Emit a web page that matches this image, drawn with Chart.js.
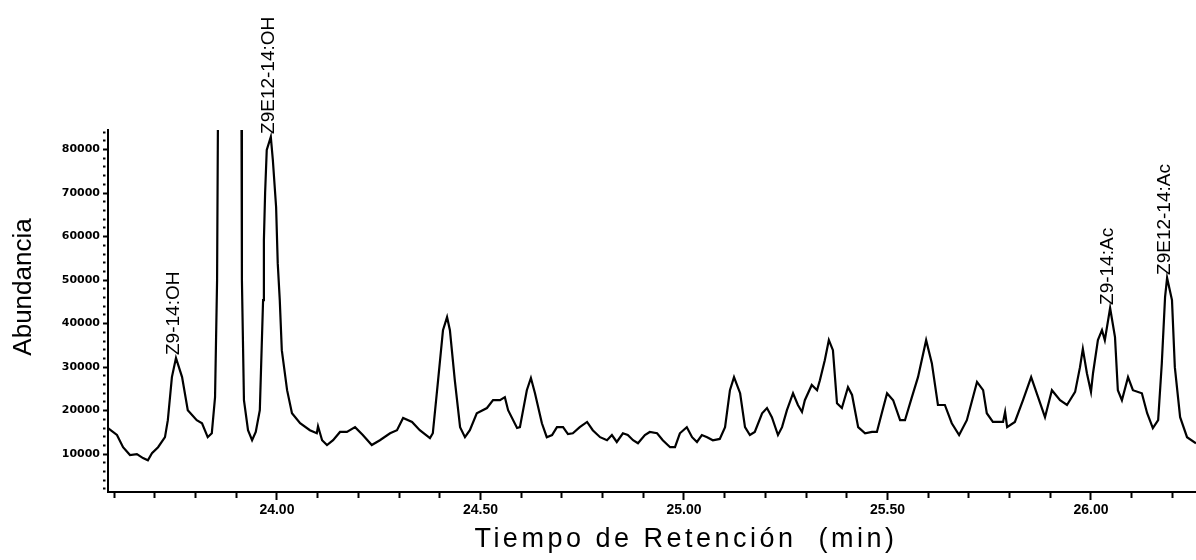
<!DOCTYPE html>
<html>
<head>
<meta charset="utf-8">
<script src="https://cdn.jsdelivr.net/npm/chart.js@4"></script>
<style>
  body { margin: 0; background: #fff; }
</style>
</head>
<body>
<canvas id="cromatograma" width="1196" height="560"></canvas>
<script>
const retentionTimes = [
  23.585, 23.607, 23.622, 23.639, 23.656, 23.671, 23.683, 23.693, 23.708, 23.725,
  23.732, 23.742, 23.752, 23.767, 23.781, 23.803, 23.816, 23.830, 23.840, 23.848,
  23.853, 23.857, 23.885, 23.912, 23.914, 23.919, 23.929, 23.939, 23.948, 23.958,
  23.966, 23.968, 23.971, 23.975, 23.985, 23.990, 23.998, 24.002, 24.007, 24.012,
  24.025, 24.037, 24.057, 24.081, 24.098, 24.101, 24.111, 24.123, 24.138, 24.155,
  24.172, 24.192, 24.211, 24.233, 24.253, 24.278, 24.295, 24.310, 24.332, 24.351,
  24.376, 24.383, 24.396, 24.408, 24.418, 24.425, 24.437, 24.450, 24.462, 24.474,
  24.491, 24.516, 24.531, 24.548, 24.560, 24.568, 24.590, 24.597, 24.614, 24.624,
  24.634, 24.651, 24.663, 24.676, 24.688, 24.703, 24.715, 24.727, 24.744, 24.762,
  24.776, 24.794, 24.811, 24.823, 24.835, 24.850, 24.862, 24.875, 24.887, 24.904,
  24.916, 24.934, 24.948, 24.966, 24.978, 24.990, 25.007, 25.020, 25.032, 25.044,
  25.057, 25.071, 25.088, 25.101, 25.113, 25.123, 25.138, 25.150, 25.162, 25.174,
  25.192, 25.204, 25.216, 25.231, 25.241, 25.253, 25.268, 25.280, 25.290, 25.297,
  25.314, 25.327, 25.334, 25.346, 25.356, 25.366, 25.376, 25.388, 25.403, 25.413,
  25.428, 25.445, 25.462, 25.474, 25.486, 25.499, 25.514, 25.531, 25.543, 25.560,
  25.575, 25.595, 25.609, 25.624, 25.641, 25.658, 25.676, 25.695, 25.720, 25.735,
  25.744, 25.759, 25.784, 25.789, 25.794, 25.813, 25.833, 25.853, 25.870, 25.887,
  25.904, 25.924, 25.941, 25.961, 25.973, 25.980, 25.990, 26.000, 26.005, 26.017,
  26.027, 26.034, 26.047, 26.059, 26.066, 26.076, 26.091, 26.103, 26.125, 26.138,
  26.152, 26.165, 26.174, 26.182, 26.187, 26.199, 26.206, 26.219, 26.236, 26.258
];

const abundances = [
  16000, 14400, 11600, 9800, 10000, 9100, 8600, 10200, 11600, 13900,
  17800, 27700, 32100, 27700, 20100, 17800, 17100, 13900, 14800, 23100,
  50000, 120000, 180000, 120000, 50000, 22400, 15500, 13200, 15100, 20100,
  45400, 59200, 70000, 79900, 82900, 77600, 66800, 53900, 45400, 33900,
  24700, 19400, 17100, 15500, 14800, 16400, 13200, 12100, 13200, 15100,
  15100, 16200, 14400, 12100, 13200, 14800, 15500, 18300, 17400, 15500,
  13700, 14800, 27000, 38500, 41500, 38500, 27000, 16200, 13900, 15500,
  19400, 20600, 22400, 22400, 23100, 20100, 16000, 16200, 24700, 27500,
  24000, 17100, 13900, 14400, 16200, 16200, 14600, 14800, 16200, 17400,
  15500, 13900, 13200, 14400, 12800, 14800, 14400, 13200, 12500, 14400,
  15100, 14800, 13200, 11600, 11600, 14800, 16200, 13900, 12800, 14400,
  13900, 13200, 13500, 16200, 24700, 27700, 24000, 16200, 14400, 15100,
  19400, 20600, 18500, 14400, 16200, 20100, 24000, 21300, 19700, 22400,
  25900, 24700, 27000, 31600, 36200, 33900, 21700, 20600, 25400, 23600,
  16200, 14800, 15100, 15100, 19400, 24000, 22400, 17800, 17800, 23100,
  27700, 36200, 30900, 21300, 21300, 17100, 14400, 17800, 26600, 24700,
  19400, 17400, 17400, 19700, 16200, 17400, 22400, 27700, 23100, 18500,
  24700, 22400, 21300, 24300, 30000, 34200, 28600, 24300, 28600, 36200,
  38500, 36200, 43600, 36900, 24700, 22400, 27700, 24700, 24000, 19400,
  16000, 17800, 30900, 46100, 50500, 45400, 30000, 18500, 13900, 12500
];

// picos identificados
const peakNames = ['Z9-14:OH', 'Z9E12-14:OH', 'Z9-14:Ac', 'Z9E12-14:Ac'];
const peakTimes = [23.752, 23.985, 26.047, 26.187];
const peakAbundances = [32100, 82900, 43600, 50500];

const xTickLabels = ['24.00', '24.50', '25.00', '25.50', '26.00'];
const yTickLabels = ['10000', '20000', '30000', '40000', '50000', '60000', '70000', '80000'];

const fuente = '"Liberation Sans", Arial, sans-serif';
const esMayor = (v, lista) => lista.some(l => Math.abs(Number(l) - v) < 1e-6);

const etiquetas = {
  id: 'etiquetas',
  afterDraw(chart) {
    const { ctx, scales: { x, y } } = chart;
    ctx.save();
    ctx.fillStyle = '#000';
    ctx.font = '19px ' + fuente;
    ctx.textAlign = 'left';
    ctx.textBaseline = 'middle';
    peakNames.forEach((nombre, i) => {
      ctx.save();
      ctx.translate(x.getPixelForValue(peakTimes[i]) - 2, y.getPixelForValue(peakAbundances[i]) - 3);
      ctx.rotate(-Math.PI / 2);
      ctx.fillText(nombre, 0, 0);
      ctx.restore();
    });

    // titulos de ejes
    ctx.font = '26px ' + fuente;
    ctx.textAlign = 'center';
    ctx.save();
    ctx.translate(24, 287);
    ctx.rotate(-Math.PI / 2);
    ctx.fillText('Abundancia', 0, 0);
    ctx.restore();
    ctx.font = '27px ' + fuente;
    ctx.letterSpacing = '3.5px';
    ctx.fillText('Tiempo de Retención  (min)', x.getPixelForValue(25) + 2, 540);
    ctx.restore();
  }
};

new Chart(document.getElementById('cromatograma'), {
  type: 'line',
  data: {
    datasets: [{
      data: retentionTimes.map((t, i) => ({ x: t, y: abundances[i] })),
      borderColor: '#000',
      borderWidth: 2.2,
      pointRadius: 0,
      tension: 0,
      fill: false
    }]
  },
  options: {
    responsive: false,
    animation: false,
    layout: { padding: { top: 130, left: 0, right: 0, bottom: 0 } },
    plugins: { legend: { display: false }, tooltip: { enabled: false } },
    scales: {
      x: {
        type: 'linear',
        min: 23.585,
        max: 26.258,
        afterBuildTicks: s => {
          const t = [];
          for (let v = 23.6; v < 26.25; v += 0.1) t.push({ value: Math.round(v * 10) / 10 });
          s.ticks = t;
        },
        afterFit: s => { s.height = 68; },
        grid: {
          drawOnChartArea: false,
          tickLength: 8,
          tickWidth: 2,
          tickColor: '#000',
          tickBorderDash: c => (c.tick && esMayor(c.tick.value, xTickLabels)) ? [] : [5, 10]
        },
        border: { color: '#000', width: 2 },
        ticks: {
          autoSkip: false,
          maxRotation: 0,
          padding: 2,
          color: '#000',
          font: { family: fuente, size: 14, weight: 'bold' },
          callback: v => xTickLabels.find(l => Math.abs(Number(l) - v) < 1e-6) || ''
        }
      },
      y: {
        min: 1300,
        max: 84500,
        afterBuildTicks: s => {
          const t = [];
          for (let v = 2000; v <= 84000; v += 2000) t.push({ value: v });
          s.ticks = t;
        },
        afterFit: s => { s.width = 108; },
        grid: {
          drawOnChartArea: false,
          tickLength: 5,
          tickWidth: 2,
          tickColor: '#000',
          tickBorderDash: c => (c.tick && esMayor(c.tick.value, yTickLabels)) ? [] : [2.5, 10]
        },
        border: { color: '#000', width: 2 },
        ticks: {
          autoSkip: false,
          padding: 3,
          color: '#000',
          font: { family: '"DejaVu Sans", sans-serif', size: 11, weight: 'bold' },
          callback: v => yTickLabels.find(l => Number(l) === v) || ''
        }
      }
    }
  },
  plugins: [etiquetas]
});
</script>
</body>
</html>
